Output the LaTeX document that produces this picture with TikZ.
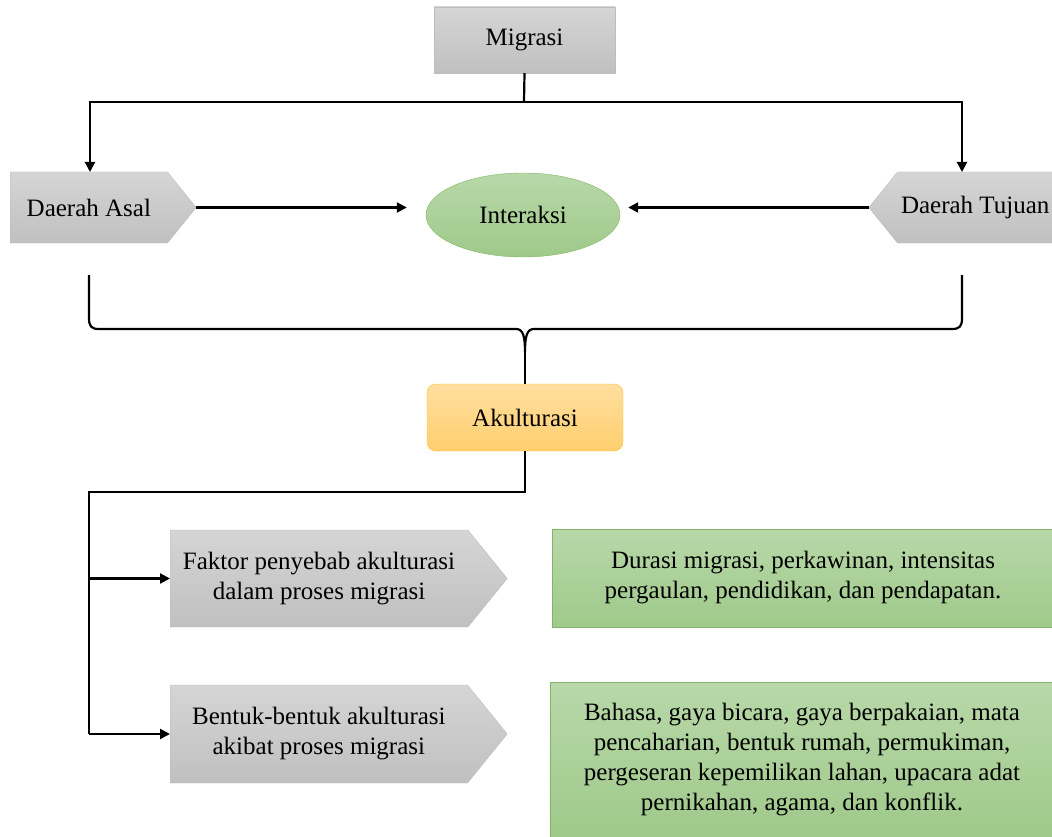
\documentclass[tikz,border=0pt]{standalone}
\usepackage{fontspec}
\setmainfont{Liberation Serif}
\usetikzlibrary{shapes.geometric, shapes.symbols, arrows.meta}

\definecolor{greytop}{HTML}{D5D5D5}
\definecolor{greybot}{HTML}{C0C0C0}
\definecolor{greyline}{HTML}{BDBDBD}
\definecolor{greentop}{HTML}{B8D8A9}
\definecolor{greenbot}{HTML}{9FC98A}
\definecolor{greenline}{HTML}{82B466}
\definecolor{yellowtop}{HTML}{FFDE9F}
\definecolor{yellowbot}{HTML}{FFCF6E}
\definecolor{yellowline}{HTML}{FFC425}

\begin{document}
\begin{tikzpicture}
    [
      x=1pt, y=-1pt,
      every node/.style = {font=\fontsize{25}{30}\selectfont, align=center, inner sep=0pt},
      greybox/.style = {draw=greyline, top color=greytop, bottom color=greybot},
      greenbox/.style = {draw=greenline, top color=greentop, bottom color=greenbot},
      arrowbox/.style = {greybox, signal, signal pointer angle=102},
      line/.style = {line width=2.2pt},
      arr/.style = {line, -{Triangle[length=10pt, width=10pt]}}
    ]

    \useasboundingbox (0,0) rectangle (1052,837);

    % top row
    \node[greybox, minimum width=181, minimum height=66] (migrasi) at (524.5,40) {Migrasi};
    \node[arrowbox, signal to=east, minimum width=186, minimum height=71, anchor=west] (asal) at (10,207.5) {Daerah Asal};
    \node[arrowbox, signal to=west, minimum width=184, minimum height=71, anchor=east] (tujuan) at (1053,207.5) {Daerah Tujuan};
    \node[greenbox, ellipse, minimum width=194, minimum height=84] (interaksi) at (523,215) {Interaksi};

    \coordinate (split) at (524,102);
    \draw[line] (migrasi.south) -- (split);
    \draw[arr] (split) -| (90,172);
    \draw[arr] (split) -| (962,172);
    \draw[arr] (asal.east) -- ([xshift=-19]interaksi.west |- asal.east);
    \draw[arr] (tujuan.west) -- ([xshift=8]interaksi.east |- tujuan.west);

    % brace
    \node[draw=yellowline, rounded corners=9pt, top color=yellowtop, bottom color=yellowbot,
          minimum width=196, minimum height=67] (akul) at (525,417.5) {Akulturasi};
    \coordinate (bl) at (89,275);
    \coordinate (br) at (962,275);
    \coordinate (tip) at (525,352);
    \draw[line] (bl) -- (89,318) .. controls (89,326) and (91,329) .. (99,329)
      -- (516,329) .. controls (523,329) and (525,336) .. (tip)
      .. controls (525,336) and (527,329) .. (534,329)
      -- (952,329) .. controls (960,329) and (962,326) .. (962,318) -- (br);
    \draw[line] (tip) -- (akul.north);

    % bottom rows
    \node[arrowbox, signal to=east, minimum width=337, minimum height=97, anchor=west] (faktor) at (170,578.5)
      {Faktor penyebab akulturasi\\dalam proses migrasi};
    \node[arrowbox, signal to=east, minimum width=337, minimum height=98, anchor=west] (bentuk) at (170,734)
      {Bentuk-bentuk akulturasi\\akibat proses migrasi};
    \node[greenbox, minimum width=502, minimum height=98] (durasi) at (803,578)
      {Durasi migrasi, perkawinan, intensitas\\pergaulan, pendidikan, dan pendapatan.};
    \node[greenbox, minimum width=504, minimum height=156] (bahasa) at (802,760)
      {Bahasa, gaya bicara, gaya berpakaian, mata\\pencaharian, bentuk rumah, permukiman,\\pergeseran kepemilikan lahan, upacara adat\\pernikahan, agama, dan konflik.};

    \coordinate (bend) at (89,492);
    \draw[line] (akul.south) |- (bend) -- (bend |- bentuk.west);
    \draw[arr] (bend |- faktor.west) -- (faktor.west);
    \draw[arr] (bend |- bentuk.west) -- (bentuk.west);
\end{tikzpicture}
\end{document}
